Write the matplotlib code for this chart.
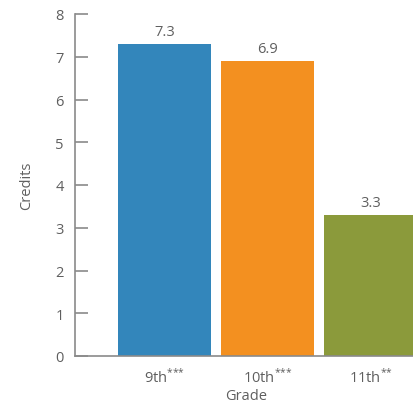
import matplotlib

matplotlib.use("Agg")
import matplotlib.pyplot as plt

grades = ["9th", "10th", "11th"]
stars = [3, 3, 2]
credits = [7.3, 6.9, 3.3]
colors = ["#3386BB", "#F39020", "#8B9A3B"]
yticks = [0, 1, 2, 3, 4, 5, 6, 7, 8]

plt.rcParams["font.family"] = ["Open Sans", "DejaVu Sans"]
text_color = "#5f5f5f"

fig = plt.figure(figsize=(4.14, 4.06), dpi=100)
ax = fig.add_axes([75 / 414, (406 - 357) / 406, (417 - 75) / 414, 342 / 406])

x = list(range(len(grades)))
bars = ax.bar(x, credits, width=0.9, color=colors, clip_on=False)
for b, v in zip(bars, credits):
    ax.text(b.get_x() + b.get_width() / 2, v + 0.12, f"{v}",
            ha="center", va="bottom", fontsize=10.5, color=text_color)

ax.set_xlim(-0.869, 2.451)
ax.set_ylim(0, 8)
ax.set_yticks(yticks)
ax.set_xticks(x)
ax.set_xticklabels([g + r"$^{\mathregular{" + "{*}" * n + "}}$" for g, n in zip(grades, stars)])

for s in ["top", "right"]:
    ax.spines[s].set_visible(False)
for s in ["left", "bottom"]:
    ax.spines[s].set_color("#8a8a8a")
    ax.spines[s].set_linewidth(1.2)

ax.tick_params(axis="y", direction="in", length=9, width=1.2, color="#8a8a8a",
               labelsize=10.5, labelcolor=text_color, pad=8)
ax.tick_params(axis="x", length=0, labelsize=10.5, labelcolor=text_color, pad=8)

ax.set_ylabel("Credits", fontsize=10.5, color=text_color, labelpad=15)
ax.set_xlabel("Grade", fontsize=10.5, color=text_color, labelpad=2)

fig.savefig("out.png", dpi=100)
plt.close(fig)
